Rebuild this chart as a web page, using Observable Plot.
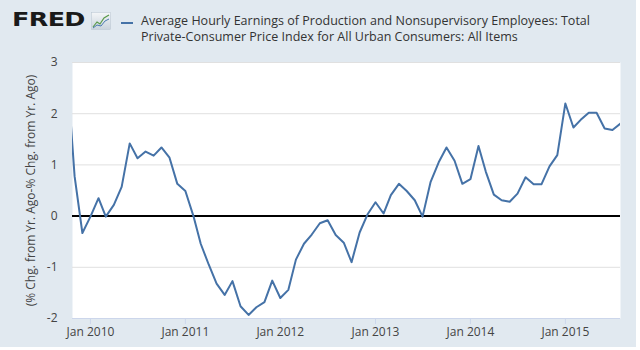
<!DOCTYPE html>
<html><head><meta charset="utf-8">
<script src="https://cdn.jsdelivr.net/npm/d3@7"></script>
<script src="https://cdn.jsdelivr.net/npm/@observablehq/plot@0.6"></script>
<style>
html,body{margin:0;padding:0;background:#fff;overflow:hidden;}
#panel{position:absolute;left:0;top:0;width:636px;height:347px;background:#e1e9f0;}
#logo{position:absolute;left:12px;top:7px;font:bold 20px "DejaVu Sans",sans-serif;color:#1a1a1a;transform:scaleX(1.27);transform-origin:left top;letter-spacing:-0.5px;}
#icon{position:absolute;left:91px;top:12px;}
#dash{position:absolute;left:121px;top:22px;width:12px;height:2px;background:#4572a7;}
.t{position:absolute;left:141px;font:12.5px "Open Sans";line-height:15px;color:#333;white-space:nowrap;}
#t1{top:13px;}
#t2{top:29px;}
#chart{position:absolute;left:0;top:50px;}
</style></head>
<body>
<div id="panel"></div>
<div id="logo">FRED</div>
<svg id="icon" width="20" height="18" viewBox="0 0 20 18">
  <defs><linearGradient id="g" x1="0" y1="0" x2="0" y2="1"><stop offset="0" stop-color="#f4f6f8"/><stop offset="1" stop-color="#c9d3dc"/></linearGradient></defs>
  <rect x="0.5" y="0.5" width="19" height="17" fill="url(#g)" stroke="#b8c4cf" stroke-width="0.5"/>
  <polyline points="2,15 6,10 9,12 13,6 18,3" fill="none" stroke="#5a9a4a" stroke-width="1.2"/>
  <polyline points="2,16 6,13 10,14 14,9 18,7" fill="none" stroke="#4a7bb0" stroke-width="1"/>
</svg>
<div id="dash"></div>
<div class="t" id="t1">Average Hourly Earnings of Production and Nonsupervisory Employees: Total</div>
<div class="t" id="t2">Private-Consumer Price Index for All Urban Consumers: All Items</div>
<div id="chart"></div>
<script>
// Monthly observations, first month = Oct 2009
const firstMonth = "2009-10-01";
const values = [
  3.0, 0.78, -0.33,
  -0.01, 0.35, -0.01, 0.22, 0.57, 1.42, 1.13, 1.26, 1.18, 1.34, 1.14, 0.63,
  0.49, 0.0, -0.54, -0.95, -1.32, -1.54, -1.27, -1.76, -1.93, -1.78, -1.68, -1.26,
  -1.60, -1.44, -0.85, -0.54, -0.36, -0.14, -0.08, -0.37, -0.52, -0.90, -0.32, 0.03,
  0.27, 0.05, 0.41, 0.63, 0.49, 0.31, -0.01, 0.67, 1.05, 1.34, 1.08, 0.63,
  0.72, 1.37, 0.87, 0.42, 0.31, 0.28, 0.44, 0.76, 0.62, 0.62, 0.97, 1.19,
  2.20, 1.73, 1.88, 2.02, 2.02, 1.71, 1.68, 1.81
];
const xTickDates = ["2010-01-01","2011-01-01","2012-01-01","2013-01-01","2014-01-01","2015-01-01"];
const yTicks = [-2, -1, 0, 1, 2, 3];
const yLabel = "(% Chg. from Yr. Ago-% Chg. from Yr. Ago)";

// fit the legend text width to the reference (line 1 spans ~449px)
const t1 = document.getElementById("t1"), t2 = document.getElementById("t2");
const w = t1.getBoundingClientRect().width;
const ls = (449 - w) / t1.textContent.length;
t1.style.letterSpacing = ls + "px";
t2.style.letterSpacing = ls + "px";

const start = new Date(firstMonth);
const data = values.map((v, i) => ({date: d3.utcMonth.offset(start, i), value: v}));
const xTicks = xTickDates.map(d => new Date(d));

const chart = Plot.plot({
  width: 640, height: 300,
  marginTop: 12, marginBottom: 32, marginLeft: 72, marginRight: 20,
  style: {background: "transparent", fontFamily: "Open Sans", fontSize: "12px", color: "#444"},
  x: {type: "utc", domain: [new Date("2009-10-24"), new Date("2015-08-01")]},
  y: {domain: [-2, 3]},
  marks: [
    Plot.frame({fill: "white", stroke: null}),
    Plot.gridY(yTicks, {stroke: "#e0e0e0", strokeOpacity: 1}),
    Plot.ruleY([-2], {stroke: "#ccd6eb"}),
    Plot.ruleY([0], {stroke: "#000", strokeWidth: 2}),
    Plot.lineY(data, {x: "date", y: "value", stroke: "#4572a7", strokeWidth: 2, clip: true}),
    Plot.axisX(xTicks, {tickFormat: d3.utcFormat("%b %Y"), tickSize: 6, stroke: "#ccd6eb", tickPadding: 3, label: null, fill: "#444"}),
    Plot.axisY(yTicks, {tickSize: 0, tickPadding: 15, tickFormat: d => String(d), label: yLabel, labelAnchor: "center", labelArrow: "none", labelOffset: 46, fill: "#444"})
  ]
});
document.getElementById("chart").appendChild(chart);
</script>
</body></html>
